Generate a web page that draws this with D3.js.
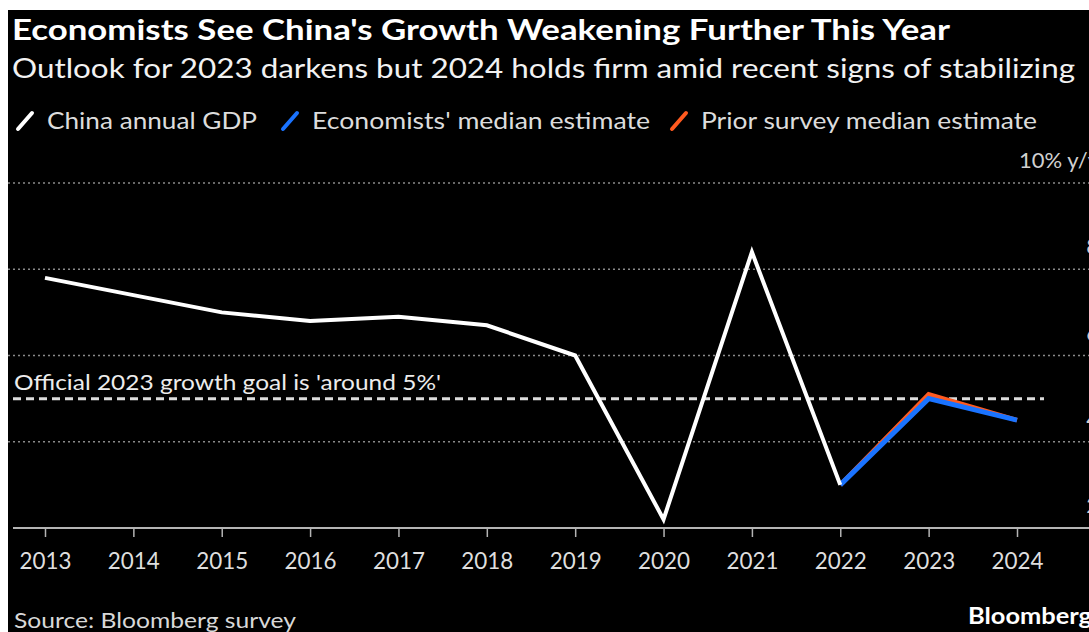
<!DOCTYPE html>
<html>
<head>
<meta charset="utf-8">
<script src="https://cdn.jsdelivr.net/npm/d3@7"></script>
<style>
  html, body { margin: 0; padding: 0; background: #fff; }
  svg { display: block; }
  text { font-family: "Lato", "Noto Sans", sans-serif; }
</style>
</head>
<body>
<svg id="chart" width="1089" height="632"></svg>
<script>
// China real GDP growth, % y/y
const years = [2013, 2014, 2015, 2016, 2017, 2018, 2019, 2020, 2021, 2022, 2023, 2024];
const gdpYears = [2013, 2014, 2015, 2016, 2017, 2018, 2019, 2020, 2021, 2022];
const gdpGrowth = [7.8, 7.4, 7.0, 6.8, 6.9, 6.7, 6.0, 2.2, 8.4, 3.0];
// Survey median forecasts, anchored on the 2022 actual
const estimateYears = [2022, 2023, 2024];
const medianEstimate = [3.0, 5.0, 4.5];
const priorEstimate = [3.0, 5.1, 4.5];
const yTicks = [2, 4, 6, 8, 10];
const growthGoal = 5;

const svg = d3.select("#chart");
const W = 1089, H = 632;

// black panel inside a thin white frame
svg.append("rect").attr("x", 8).attr("y", 10).attr("width", W - 8).attr("height", H - 10).attr("fill", "#000");

const x = d3.scaleLinear().domain([2013, 2024]).range([45, 1017]);
const y = d3.scaleLinear().domain([2, 10]).range([528, 183]);

// squeeze a text element to a given width while keeping its font size
function fit(sel, width) {
  sel.attr("textLength", width).attr("lengthAdjust", "spacingAndGlyphs");
  return sel;
}

// title block
fit(svg.append("text").attr("x", 12).attr("y", 40).attr("fill", "#fff")
  .attr("font-size", 29).attr("font-weight", 700)
  .text("Economists See China's Growth Weakening Further This Year"), 938);
fit(svg.append("text").attr("x", 12).attr("y", 78).attr("fill", "#f2f2f2")
  .attr("font-size", 27)
  .text("Outlook for 2023 darkens but 2024 holds firm amid recent signs of stabilizing"), 1063);

// legend
const legend = [
  { label: "China annual GDP", color: "#ffffff", x: 18, w: 210 },
  { label: "Economists' median estimate", color: "#1a73ff", x: 283, w: 338 },
  { label: "Prior survey median estimate", color: "#ff5a1f", x: 672, w: 336 }
];
const lg = svg.append("g");
legend.forEach(d => {
  lg.append("line").attr("x1", d.x).attr("y1", 129).attr("x2", d.x + 14).attr("y2", 113)
    .attr("stroke", d.color).attr("stroke-width", 4).attr("stroke-linecap", "round");
  fit(lg.append("text").attr("x", d.x + 29).attr("y", 129).attr("fill", "#dcdcdc")
    .attr("font-size", 24).text(d.label), d.w);
});

// horizontal gridlines and right-hand labels
const grid = svg.append("g");
grid.selectAll("line").data(yTicks.filter(v => v > 2)).join("line")
  .attr("x1", 8).attr("x2", W).attr("y1", d => y(d)).attr("y2", d => y(d))
  .attr("stroke", "#8a8a8a").attr("stroke-width", 1.3).attr("stroke-dasharray", "2,3");
grid.selectAll("text").data(yTicks).join("text")
  .attr("x", 1099).attr("y", d => y(d) - 15).attr("text-anchor", "end")
  .attr("fill", "#d0d0d0").attr("font-size", 22)
  .text(d => d === 10 ? "10% y/y" : d);

// x axis
const xAxis = d3.axisBottom(x).tickValues(years).tickFormat(d3.format("d")).tickSize(9).tickPadding(15);
const ax = svg.append("g").attr("transform", `translate(0,${y(2)})`).call(xAxis);
ax.select(".domain").remove();
ax.insert("line", ":first-child").attr("x1", 13).attr("x2", W).attr("y1", 0).attr("y2", 0)
  .attr("stroke", "#b4b4b4").attr("stroke-width", 2);
ax.selectAll(".tick line").attr("stroke", "#b4b4b4").attr("stroke-width", 1.5);
ax.selectAll(".tick text").attr("fill", "#dedede").attr("font-size", 24)
  .attr("font-family", "Lato, sans-serif")
  .attr("textLength", 52).attr("lengthAdjust", "spacingAndGlyphs");

// official growth goal
svg.append("line").attr("x1", 13).attr("x2", 1044).attr("y1", y(growthGoal)).attr("y2", y(growthGoal))
  .attr("stroke", "#dcdcdc").attr("stroke-width", 3).attr("stroke-dasharray", "8,5");
fit(svg.append("text").attr("x", 14).attr("y", y(growthGoal) - 9).attr("fill", "#ececec")
  .attr("font-size", 22).text("Official 2023 growth goal is 'around 5%'"), 427);

// series lines
const line = d3.line().x(d => x(d[0])).y(d => y(d[1]));
svg.append("path").datum(d3.zip(estimateYears, priorEstimate)).attr("d", line)
  .attr("fill", "none").attr("stroke", "#ff5a1f").attr("stroke-width", 4.5);
svg.append("path").datum(d3.zip(estimateYears, medianEstimate)).attr("d", line)
  .attr("fill", "none").attr("stroke", "#1a73ff").attr("stroke-width", 5);
svg.append("path").datum(d3.zip(gdpYears, gdpGrowth)).attr("d", line)
  .attr("fill", "none").attr("stroke", "#ffffff").attr("stroke-width", 4);

// footer
fit(svg.append("text").attr("x", 14).attr("y", 628).attr("fill", "#d8d8d8")
  .attr("font-size", 22).text("Source: Bloomberg survey"), 282);
fit(svg.append("text").attr("x", 968).attr("y", 624).attr("fill", "#fff")
  .attr("font-size", 23).attr("font-weight", 700).text("Bloomberg"), 124);
</script>
</body>
</html>
